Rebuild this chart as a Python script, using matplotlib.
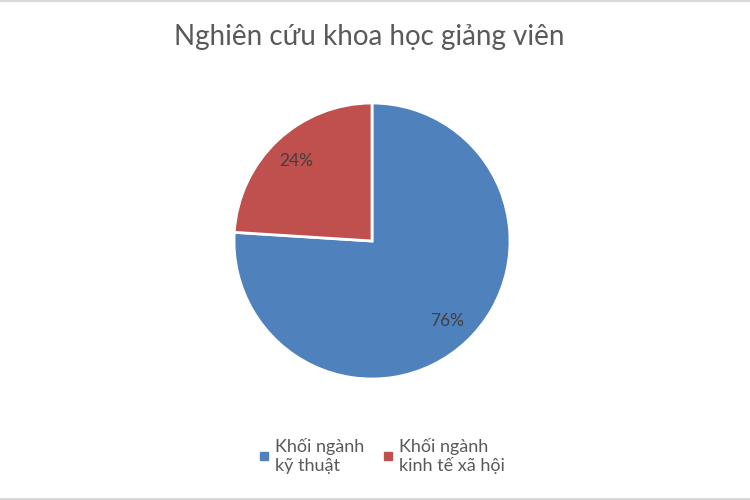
import matplotlib
matplotlib.use("Agg")
import matplotlib.pyplot as plt
from matplotlib.lines import Line2D

# data
labels = ["Khối ngành\nkỹ thuật", "Khối ngành\nkinh tế xã hội"]
values = [76, 24]
colors = ["#4F81BD", "#C0504D"]
title = "Nghiên cứu khoa học giảng viên"

plt.rcParams['font.family'] = ['Lato', 'DejaVu Sans']

fig = plt.figure(figsize=(7.5, 5), dpi=100)
ax = fig.add_axes([0.312, 0.242, 0.368, 0.552])

wedges, texts, autotexts = ax.pie(
    values, colors=colors, startangle=90, counterclock=False,
    autopct="%1.0f%%", pctdistance=0.8,
    wedgeprops=dict(edgecolor="white", linewidth=2),
    textprops=dict(color="#404040", fontsize=12.5))
ax.set_xlim(-1, 1)
ax.set_ylim(-1, 1)
ax.set_aspect("equal")

fig.text(0.493, 0.925, title, ha="center", va="center",
         fontsize=20, color="#595959")

handles = [Line2D([], [], marker="s", linestyle="", markersize=6,
                  markerfacecolor=c, markeredgecolor=c) for c in colors]
fig.legend(handles, labels, loc="center", bbox_to_anchor=(0.508, 0.088),
           ncol=2, frameon=False, fontsize=13, labelcolor="#595959",
           handletextpad=0.2, columnspacing=0.9, handlelength=0.8,
           labelspacing=0.2)

# thin gray lines at top and bottom edges
fig.add_artist(Line2D([0, 1], [0.998, 0.998], color="#D9D9D9", linewidth=1.5))
fig.add_artist(Line2D([0, 1], [0.002, 0.002], color="#D9D9D9", linewidth=1.5))

fig.savefig("out.png", dpi=100, facecolor="white")
